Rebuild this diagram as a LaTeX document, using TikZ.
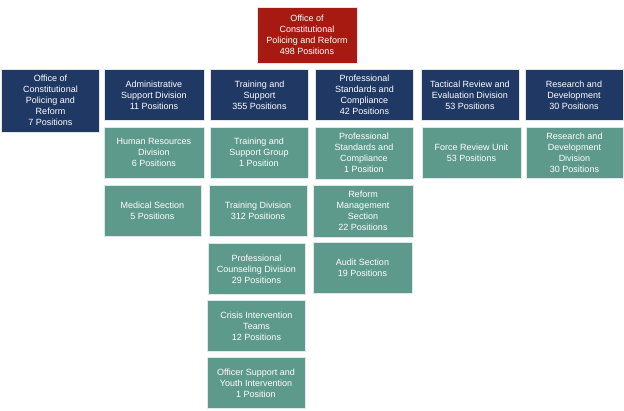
\documentclass[tikz,border=0pt]{standalone}
\usepackage{fontspec}
\setmainfont{Liberation Sans}
\usepackage{xcolor}
\definecolor{orgred}{RGB}{166,26,18}
\definecolor{orgnavy}{RGB}{31,56,100}
\definecolor{orgteal}{RGB}{94,154,139}
\definecolor{orgedge}{RGB}{225,232,236}
\usetikzlibrary{positioning}

\begin{document}
\begin{tikzpicture}[
  x=1pt,y=-1pt,
  every node/.style={font=\fontsize{9}{11}\selectfont,text=white,align=center},
  orgbox/.style={draw=orgedge,line width=0.8pt,inner sep=2pt,
                 minimum width=98pt,minimum height=51pt},
  headbox/.style={orgbox,fill=orgred,minimum width=100pt,minimum height=56pt},
  unitbox/.style={orgbox,fill=orgnavy},
  subbox/.style={orgbox,fill=orgteal},
]
  \useasboundingbox (0,0) rectangle (624,411);

  % Head office
  \node[headbox] (head) at (307,35) {Office of\\Constitutional\\Policing and Reform\\498 Positions};

  % Divisions
  \node[unitbox,minimum height=63pt] (office) at (50.5,100.5) {Office of\\Constitutional\\Policing and\\Reform\\7 Positions};
  \node[unitbox,minimum width=100pt] (admin) at (154,95) {Administrative\\Support Division\\11 Positions};
  \node[unitbox] (training) at (259.5,95) {Training and\\Support\\355 Positions};
  \node[unitbox] (profstd) at (364.5,95) {Professional\\Standards and\\Compliance\\42 Positions};
  \node[unitbox] (tactical) at (470,95) {Tactical Review and\\Evaluation Division\\53 Positions};
  \node[unitbox] (research) at (574,95) {Research and\\Development\\30 Positions};

  % Administrative Support
  \node[subbox,minimum width=100pt] (hr) at (154,152.5) {Human Resources\\Division\\6 Positions};
  \node[subbox,minimum width=97pt] (medical) at (152.5,210.5) {Medical Section\\5 Positions};

  % Training and Support
  \node[subbox] (tsgroup) at (259,152.5) {Training and\\Support Group\\1 Position};
  \node[subbox] (traindiv) at (258,210.5) {Training Division\\312 Positions};
  \node[subbox,minimum width=97pt] (counsel) at (256.5,269) {Professional\\Counseling Division\\29 Positions};
  \node[subbox] (crisis) at (256.5,326) {Crisis Intervention\\Teams\\12 Positions};
  \node[subbox] (officer) at (256,383) {Officer Support and\\Youth Intervention\\1 Position};

  % Professional Standards and Compliance
  \node[subbox,minimum height=52pt] (pscunit) at (364,153) {Professional\\Standards and\\Compliance\\1 Position};
  \node[subbox,minimum width=100pt,minimum height=52pt] (reform) at (363,211) {Reform\\Management\\Section\\22 Positions};
  \node[subbox,minimum width=99pt] (audit) at (362.5,268) {Audit Section\\19 Positions};

  % Tactical Review and Research
  \node[subbox,minimum width=99pt] (force) at (471.5,152.5) {Force Review Unit\\53 Positions};
  \node[subbox,minimum width=97pt] (rddiv) at (574.5,152.5) {Research and\\Development\\Division\\30 Positions};
\end{tikzpicture}
\end{document}
